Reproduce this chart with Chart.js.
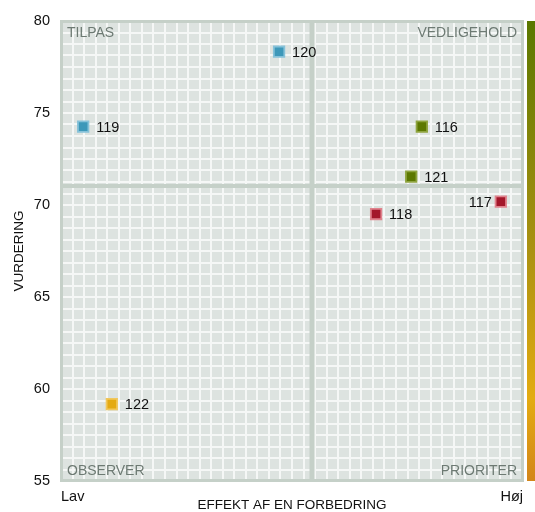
<!DOCTYPE html>
<html>
<head>
<meta charset="utf-8">
<script src="https://cdn.jsdelivr.net/npm/chart.js@4.4.1/dist/chart.umd.min.js"></script>
<style>
  html, body { margin: 0; padding: 0; background: #fff; }
  canvas { display: block; }
</style>
</head>
<body>
<canvas id="quadChart" width="535" height="512"></canvas>
<script>
// Data
const ids       = ['116', '117', '118', '119', '120', '121', '122'];
const effekt    = [78.1, 95.2, 68.2, 4.8, 47.2, 75.8, 11.0];
const vurdering = [74.26, 70.18, 69.51, 74.26, 78.33, 71.54, 59.18];

const quadrantNames = ['TILPAS', 'VEDLIGEHOLD', 'OBSERVER', 'PRIORITER'];
const xTickLabels = ['Lav', 'Høj'];
const xTitle = 'EFFEKT AF EN FORBEDRING';
const yTitle = 'VURDERING';

const xMin = 0, xMax = 100;
const yMin = 55, yMax = 80, yLabelStep = 5;
const gridCells = 40;

// quadrant split = average of the points
const meanX = effekt.reduce((a, b) => a + b, 0) / effekt.length;
const meanY = vurdering.reduce((a, b) => a + b, 0) / vurdering.length;

// colours per quadrant: TILPAS, VEDLIGEHOLD, OBSERVER, PRIORITER
const quadFill   = ['#3d98b9', '#5c7800', '#e4aa12', '#a3172a'];
const quadBorder = ['#86c2d9', '#8ea43e', '#f1c75c', '#e0838d'];

function quadrantOf(x, y) {
  if (y >= meanY) return x < meanX ? 0 : 1;
  return x < meanX ? 2 : 3;
}
const pointQuad = effekt.map((x, i) => quadrantOf(x, vurdering[i]));

const FONT = "'Liberation Sans', Arial, sans-serif";

const plotDecor = {
  id: 'plotDecor',
  beforeDraw(chart) {
    const { ctx, chartArea: a } = chart;
    ctx.save();
    ctx.fillStyle = '#dde3e0';
    ctx.fillRect(a.left, a.top, a.right - a.left, a.bottom - a.top);
    ctx.restore();
  },
  beforeDatasetsDraw(chart) {
    const { ctx, chartArea: a, scales } = chart;
    const mx = scales.x.getPixelForValue(meanX);
    const my = scales.y.getPixelForValue(meanY);
    ctx.save();
    ctx.strokeStyle = '#c5d0c8';
    // mid lines
    ctx.lineWidth = 5;
    ctx.beginPath();
    ctx.moveTo(mx, a.top); ctx.lineTo(mx, a.bottom);
    ctx.stroke();
    ctx.lineWidth = 4;
    ctx.beginPath();
    ctx.moveTo(a.left, my); ctx.lineTo(a.right, my);
    ctx.stroke();
    // frame
    ctx.lineWidth = 3;
    ctx.strokeRect(a.left + 0.5, a.top + 0.5, a.right - a.left - 1, a.bottom - a.top - 1);

    // quadrant names
    ctx.fillStyle = '#6d7a73';
    ctx.font = '14px ' + FONT;
    ctx.textBaseline = 'top';
    ctx.textAlign = 'left';
    ctx.fillText(quadrantNames[0], a.left + 6, a.top + 5);
    ctx.textAlign = 'right';
    ctx.fillText(quadrantNames[1], a.right - 6, a.top + 5);
    ctx.textBaseline = 'bottom';
    ctx.textAlign = 'left';
    ctx.fillText(quadrantNames[2], a.left + 6, a.bottom - 3);
    ctx.textAlign = 'right';
    ctx.fillText(quadrantNames[3], a.right - 6, a.bottom - 3);
    ctx.restore();
  },
  afterDatasetsDraw(chart) {
    const { ctx, chartArea: a } = chart;
    const meta = chart.getDatasetMeta(0);
    ctx.save();
    ctx.fillStyle = '#111';
    ctx.font = '14.5px ' + FONT;
    ctx.textBaseline = 'middle';
    meta.data.forEach((pt, i) => {
      const w = ctx.measureText(ids[i]).width;
      if (pt.x + 13 + w > a.right - 4) {
        ctx.textAlign = 'right';
        ctx.fillText(ids[i], pt.x - 9, pt.y + 1);
      } else {
        ctx.textAlign = 'left';
        ctx.fillText(ids[i], pt.x + 13, pt.y + 1);
      }
    });
    ctx.restore();
  },
  afterDraw(chart) {
    const { ctx, chartArea: a } = chart;
    const g = ctx.createLinearGradient(0, a.top, 0, a.bottom);
    g.addColorStop(0, '#5a7800');
    g.addColorStop(0.5, '#ab9212');
    g.addColorStop(0.82, '#e3ac12');
    g.addColorStop(1, '#d3861a');
    ctx.save();
    ctx.fillStyle = g;
    ctx.fillRect(527, a.top, 8, a.bottom - a.top);
    ctx.restore();
  }
};

new Chart(document.getElementById('quadChart'), {
  type: 'scatter',
  data: {
    datasets: [{
      data: effekt.map((x, i) => ({ x: x, y: vurdering[i] })),
      pointStyle: 'rect',
      pointRadius: 7.4,
      pointBorderWidth: 1.8,
      backgroundColor: pointQuad.map(q => quadFill[q]),
      borderColor: pointQuad.map(q => quadBorder[q])
    }]
  },
  options: {
    responsive: false,
    animation: false,
    layout: { padding: { top: 21, right: 12, left: 0, bottom: 0 } },
    plugins: { legend: { display: false }, tooltip: { enabled: false } },
    scales: {
      x: {
        type: 'linear',
        min: xMin, max: xMax,
        afterFit: s => { s.height = 31; },
        border: { display: false },
        grid: { color: '#f5f7f6', lineWidth: 2, drawTicks: false },
        ticks: {
          stepSize: (xMax - xMin) / gridCells,
          autoSkip: false,
          maxRotation: 0,
          align: 'inner',
          padding: 7,
          color: '#111',
          font: { family: FONT, size: 14.5 },
          callback: (v, i, arr) => i === 0 ? xTickLabels[0] : (i === arr.length - 1 ? xTickLabels[1] : '')
        },
        title: {
          display: true, text: xTitle, color: '#111',
          font: { family: FONT, size: 13.5, lineHeight: 1 },
          padding: { top: 0, bottom: 0 }
        }
      },
      y: {
        type: 'linear',
        min: yMin, max: yMax,
        afterFit: s => { s.width = 61; },
        border: { display: false },
        grid: { color: '#f5f7f6', lineWidth: 2, drawTicks: false },
        ticks: {
          stepSize: (yMax - yMin) / gridCells,
          autoSkip: false,
          padding: 11,
          color: '#111',
          font: { family: FONT, size: 14.5 },
          callback: v => Math.abs(v / yLabelStep - Math.round(v / yLabelStep)) < 1e-6 ? String(Math.round(v)) : ''
        },
        title: {
          display: true, text: yTitle, color: '#111',
          font: { family: FONT, size: 13.5, lineHeight: 1.2 },
          padding: { top: 11, bottom: 0 }
        }
      }
    }
  },
  plugins: [plotDecor]
});
</script>
</body>
</html>
